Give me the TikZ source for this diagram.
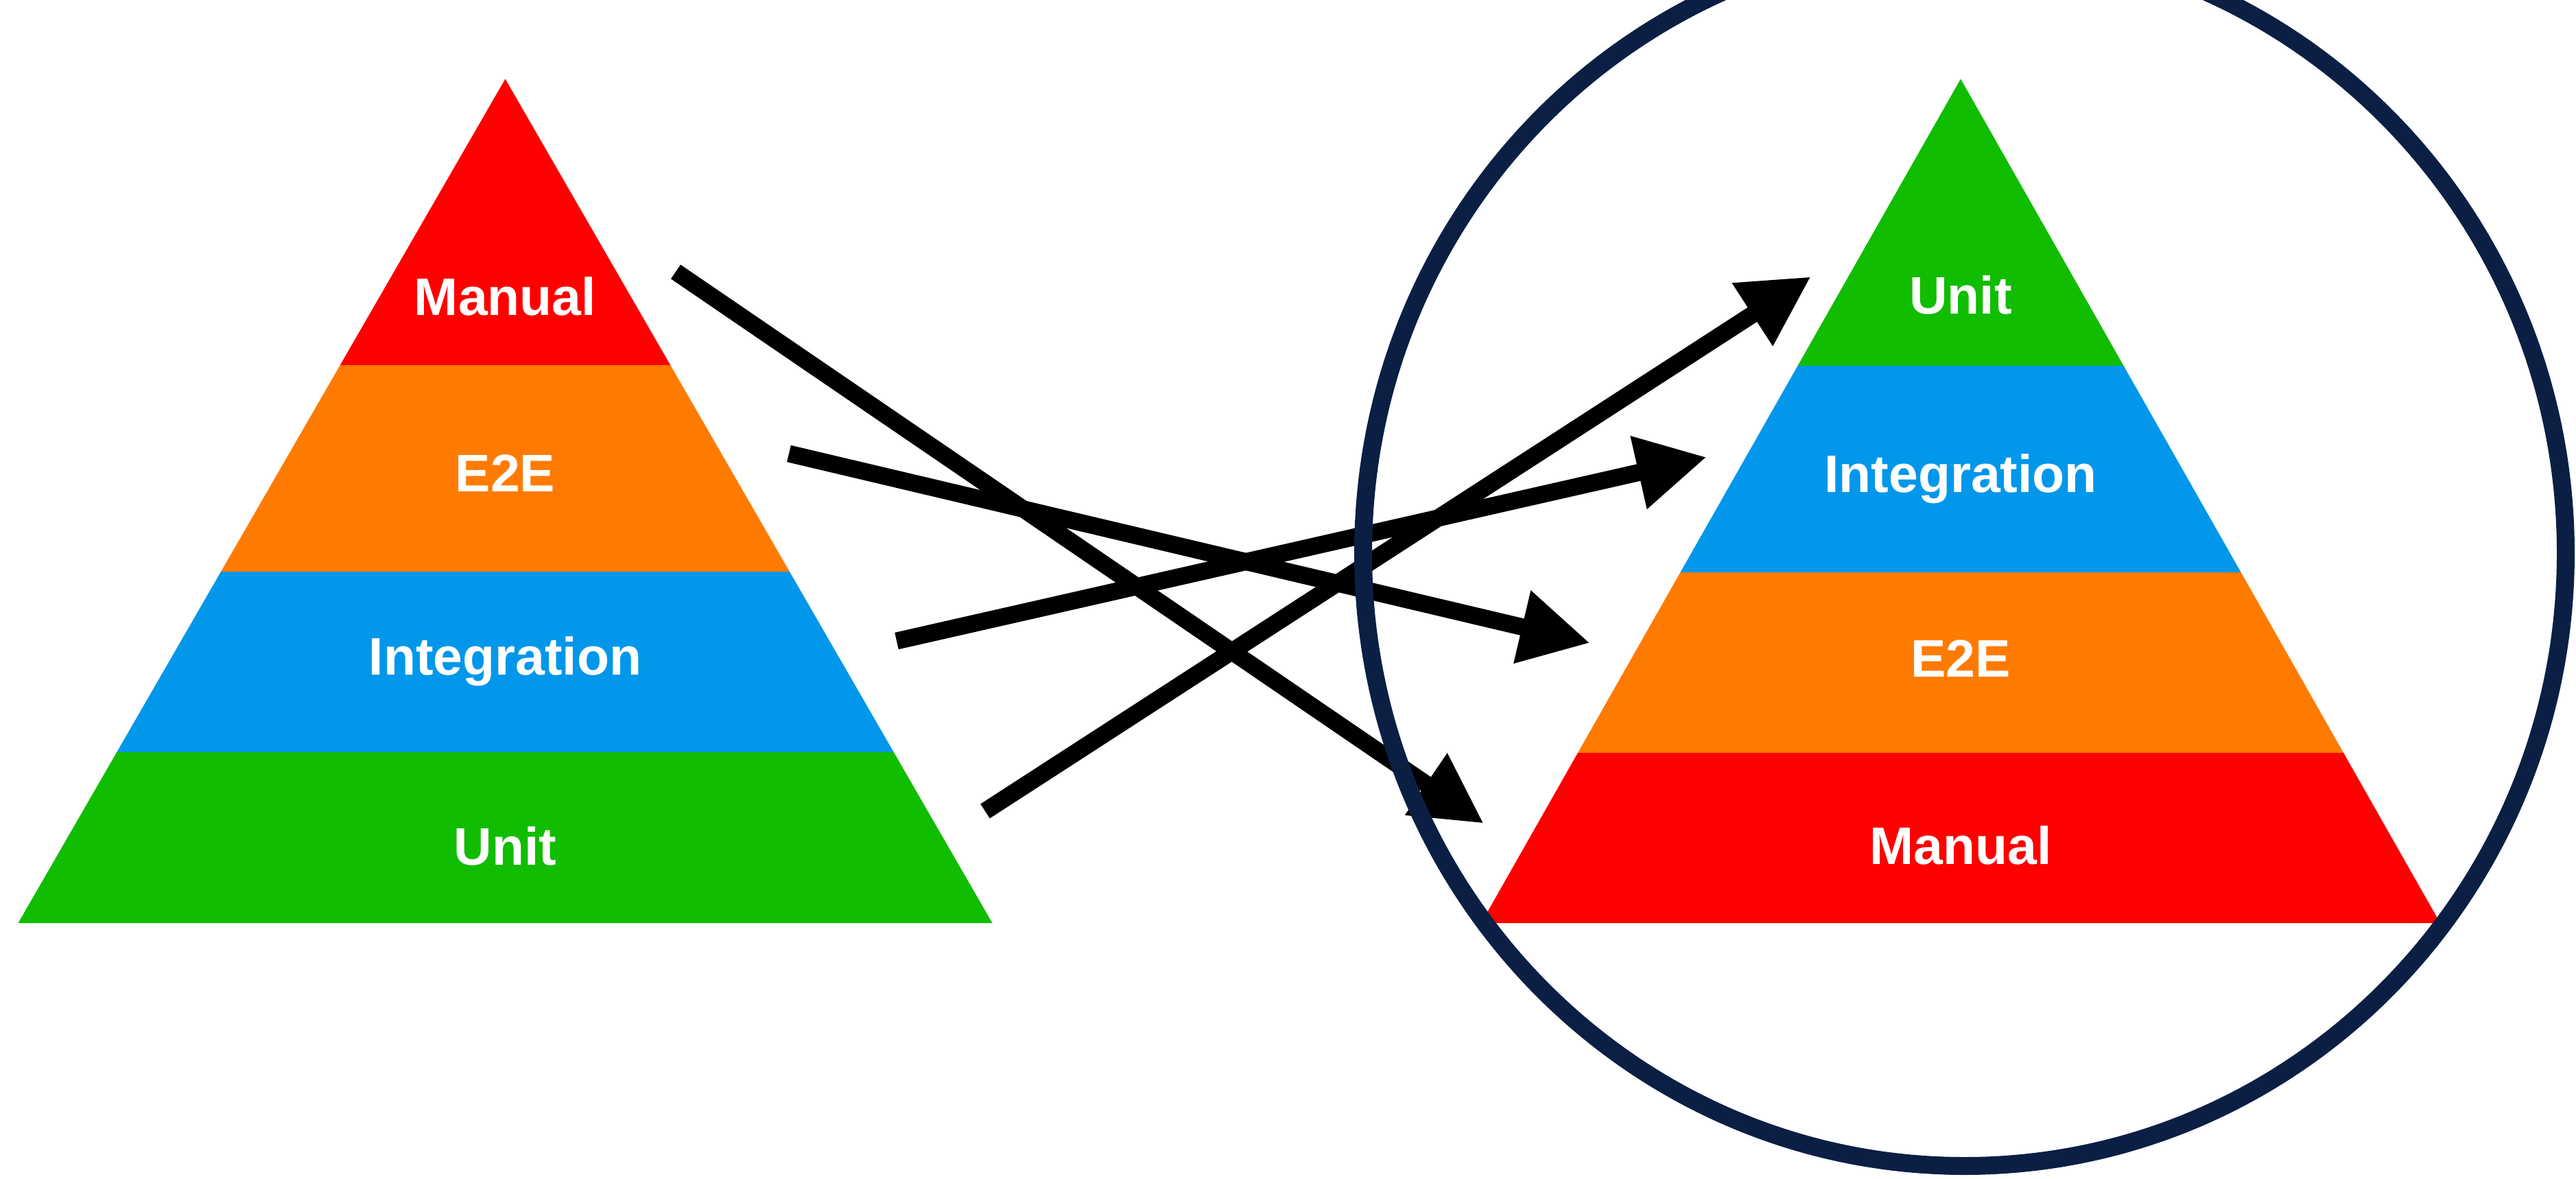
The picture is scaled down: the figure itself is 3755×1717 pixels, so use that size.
\documentclass[tikz,border=0pt]{standalone}
\usepackage{fontspec}
\setmainfont{Liberation Sans}
\usetikzlibrary{arrows.meta}
\definecolor{pred}{HTML}{FF0000}
\definecolor{porange}{HTML}{FF7B00}
\definecolor{pblue}{HTML}{0297EA}
\definecolor{pgreen}{HTML}{11BD00}
\definecolor{pnavy}{HTML}{0B1F44}
\begin{document}
\begin{tikzpicture}[x=1pt,y=-1pt,
  lbl/.style={text=white, font=\bfseries\fontsize{77}{92}\selectfont, inner sep=0pt, anchor=base},
  arr/.style={line width=25pt, line cap=butt, -{Triangle[length=102pt,width=102pt]}},
  ring/.style={draw=pnavy, line width=26pt}]
\useasboundingbox (0,0) rectangle (3755,1717);

% left pyramid
\begin{scope}
  \clip (736.5,115) -- (1446.5,1345) -- (26.5,1345) -- cycle;
  \fill[pred]    (0,100)  rectangle (1500,533);
  \fill[porange] (0,532)  rectangle (1500,834);
  \fill[pblue]   (0,833)  rectangle (1500,1097);
  \fill[pgreen]  (0,1096) rectangle (1500,1346);
\end{scope}
\node[lbl] (lman) at (736.5,459)  {Manual};
\node[lbl] (le2e) at (736.5,716)  {E2E};
\node[lbl] (lint) at (736.5,983)  {Integration};
\node[lbl] (luni) at (736.5,1260) {Unit};

% right pyramid
\begin{scope}
  \clip (2858,115) -- (3557,1345) -- (2159,1345) -- cycle;
  \fill[pgreen]  (2100,100)  rectangle (3600,534);
  \fill[pblue]   (2100,533)  rectangle (3600,835);
  \fill[porange] (2100,834)  rectangle (3600,1098);
  \fill[pred]    (2100,1097) rectangle (3600,1346);
\end{scope}
\node[lbl] (runi) at (2858,457)  {Unit};
\node[lbl] (rint) at (2858,717)  {Integration};
\node[lbl] (re2e) at (2858,986)  {E2E};
\node[lbl] (rman) at (2858,1259) {Manual};

% arrow end points
\coordinate (s1) at (985,396);   \coordinate (t1) at (2163,1200);
\coordinate (s2) at (1150,661);  \coordinate (t2) at (2318,937);
\coordinate (s3) at (1307,934);  \coordinate (t3) at (2488,666);
\coordinate (s4) at (1436,1182); \coordinate (t4) at (2640,403);
\draw[arr] (s1) -- (t1);
\draw[arr] (s2) -- (t2);
\draw[arr] (s3) -- (t3);
\draw[arr] (s4) -- (t4);

% ring
\draw[ring] (2863.5,806) ellipse [x radius=876.5pt, y radius=893pt];
\end{tikzpicture}
\end{document}
